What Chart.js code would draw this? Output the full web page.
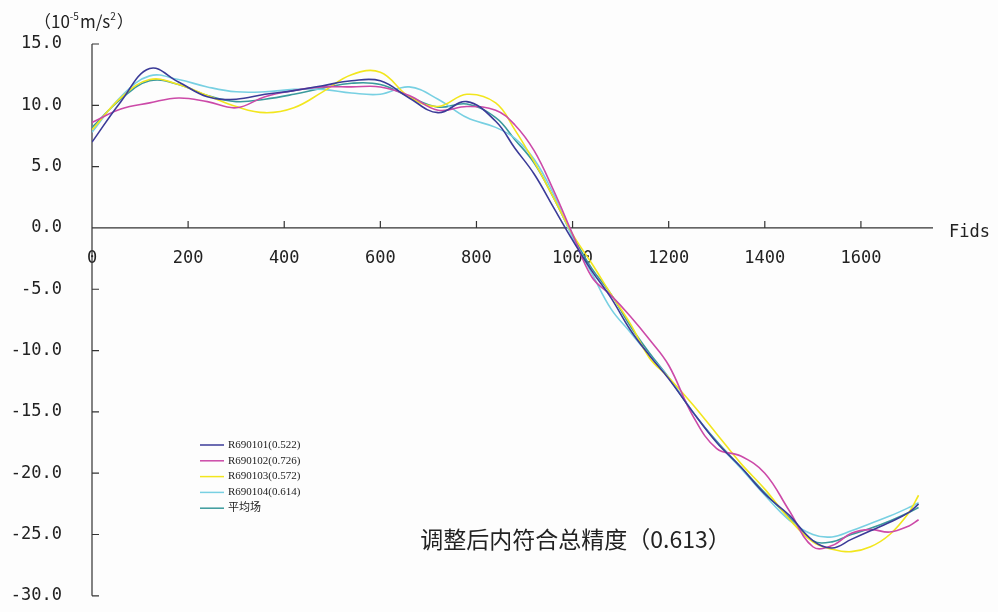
<!DOCTYPE html>
<html>
  <head>
    <meta charset="utf-8" />
    <title>调整后内符合总精度</title>
    <style>
        html, body {
            margin: 0;
            padding: 0;
            background: #fdfdfd;
            overflow: hidden;
        }
        /* the centred x axis still reserves ~24px at the bottom, so the canvas runs past the window */
        #wrap {
            width: 998px;
            height: 636px;
        }
    </style>
  </head>
  <body>
    <script src="https://cdn.jsdelivr.net/npm/chart.js@4.4.1/dist/chart.umd.min.js"></script>
    <div id="wrap"><canvas id="chart"></canvas></div>

    <script>
        const fids = [0, 60, 120, 180, 240, 300, 360, 420, 480, 540, 600, 660, 720, 780, 840, 880, 920, 960,
                      1000, 1040, 1080, 1120, 1160, 1200, 1250, 1300, 1350, 1400, 1450, 1500, 1540, 1580, 1620, 1660, 1700, 1720];

        const r690101 = [7.0, 10.3, 13.0, 11.9, 10.7, 10.5, 10.9, 11.2, 11.6, 12.0, 12.0, 10.6, 9.4, 10.3, 8.7, 6.5, 4.4, 1.7,
                         -1.0, -3.5, -5.7, -8.3, -10.4, -12.3, -15.0, -17.5, -19.5, -21.7, -23.4, -25.5, -26.1, -25.4, -24.7, -24.0, -23.2, -22.5];
        const r690102 = [8.6, 9.7, 10.2, 10.6, 10.3, 9.8, 10.7, 11.2, 11.5, 11.5, 11.5, 10.8, 9.6, 9.9, 9.6, 8.4, 6.3, 3.1,
                         -0.5, -4.0, -5.5, -7.2, -9.1, -11.2, -15.3, -18.0, -18.6, -20.0, -23.0, -26.0, -25.9, -24.9, -24.6, -24.8, -24.3, -23.8];
        const r690103 = [8.0, 10.6, 12.1, 11.7, 10.8, 9.9, 9.4, 9.8, 11.1, 12.5, 12.7, 10.7, 9.9, 10.9, 10.2, 8.0, 5.4, 2.5,
                         -0.5, -2.9, -5.4, -7.8, -10.6, -12.2, -14.4, -16.8, -19.2, -21.3, -23.7, -25.6, -26.2, -26.4, -26.0, -25.0, -23.2, -21.8];
        const r690104 = [7.8, 10.7, 12.4, 12.1, 11.5, 11.1, 11.1, 11.3, 11.3, 11.0, 10.9, 11.5, 10.5, 9.0, 8.2, 7.3, 5.6, 2.8,
                         -0.8, -3.7, -6.6, -8.5, -10.4, -12.2, -15.0, -17.5, -19.6, -21.8, -23.8, -25.0, -25.2, -24.7, -24.1, -23.5, -22.8, -22.4];
        const average = [8.2, 10.5, 12.0, 11.7, 10.8, 10.3, 10.5, 10.9, 11.4, 11.8, 11.7, 10.7, 9.85, 10.1, 9.0, 7.2, 5.3, 2.5,
                         -0.6, -3.3, -5.4, -8.0, -10.2, -12.2, -15.0, -17.4, -19.5, -21.6, -23.6, -25.5, -25.6, -25.0, -24.5, -23.9, -23.2, -22.8];

        const seriesNames = ["R690101(0.522)", "R690102(0.726)", "R690103(0.572)", "R690104(0.614)", "平均场"];
        const seriesValues = [r690101, r690102, r690103, r690104, average];
        const seriesColors = ["#3b3b98", "#cc4aa8", "#f2e61e", "#78d0e2", "#3a9a9c"];

        const xTickValues = [200, 400, 600, 800, 1000, 1200, 1400, 1600];
        const unitText = ["（10", "-5", "m/s", "2", "）"];
        const axisName = "Fids";
        const noteText = "调整后内符合总精度（0.613）";

        Chart.defaults.font.family = "'DejaVu Sans Mono', monospace";
        Chart.defaults.color = "#222";

        const axesPlugin = {
          id: "axes",
          beforeDatasetsDraw(chart) {
            const { ctx } = chart;
            const x = chart.scales.x, y = chart.scales.y;
            const x0 = x.getPixelForValue(0), y0 = y.getPixelForValue(0);
            ctx.save();
            ctx.strokeStyle = "#333";
            ctx.lineWidth = 1.2;
            ctx.beginPath();
            ctx.moveTo(x0, y.top);
            ctx.lineTo(x0, y.bottom);
            ctx.moveTo(x0, y0);
            ctx.lineTo(x.right, y0);
            y.ticks.forEach(t => {
              const py = y.getPixelForValue(t.value);
              ctx.moveTo(x0, py);
              ctx.lineTo(x0 + 7, py);
            });
            xTickValues.forEach(v => {
              const px = x.getPixelForValue(v);
              ctx.moveTo(px, y0);
              ctx.lineTo(px, y0 - 7);
            });
            ctx.stroke();
            ctx.restore();
          },
          afterDraw(chart) {
            const { ctx } = chart;
            const x = chart.scales.x, y = chart.scales.y;
            const y0 = y.getPixelForValue(0);
            ctx.save();
            ctx.fillStyle = "#222";
            ctx.textBaseline = "alphabetic";

            // unit label
            let ux = 34;
            const big = "17px 'Noto Sans CJK SC'", small = "10px 'Noto Sans CJK SC'";
            unitText.forEach((s, i) => {
              const sup = i === 1 || i === 3;
              ctx.font = sup ? small : big;
              ctx.fillText(s, ux, sup ? 20 : 28);
              ux += ctx.measureText(s).width + (sup ? 1 : 0);
            });

            // axis name
            ctx.font = "17px 'DejaVu Sans Mono'";
            ctx.textBaseline = "middle";
            ctx.fillText(axisName, x.right + 16, y0 + 5);

            // note
            ctx.font = "23px 'Noto Sans CJK SC'";
            ctx.fillText(noteText, x.getPixelForValue(683), y.getPixelForValue(-25.4));

            // legend
            ctx.font = "11px 'Liberation Serif', 'Noto Sans CJK SC'";
            chart.data.datasets.forEach((ds, i) => {
              const ly = 445 + i * 15.8;
              ctx.strokeStyle = ds.borderColor;
              ctx.lineWidth = 1.5;
              ctx.beginPath();
              ctx.moveTo(200, ly);
              ctx.lineTo(224, ly);
              ctx.stroke();
              ctx.fillText(ds.label, 228, ly);
            });
            ctx.restore();
          }
        };

        const chart = new Chart("chart", {
          type: "line",
          data: {
            datasets: seriesNames.map((name, i) => ({
              label: name,
              data: fids.map((f, j) => ({ x: f, y: seriesValues[i][j] })),
              borderColor: seriesColors[i],
              borderWidth: 1.6,
              pointRadius: 0,
              tension: 0.4,
              fill: false
            }))
          },
          options: {
            responsive: true,
            maintainAspectRatio: false,
            animation: false,
            layout: { padding: { left: 0, top: 44, right: 65, bottom: 16 } },
            plugins: {
              legend: { display: false },
              tooltip: { enabled: false }
            },
            scales: {
              x: {
                type: "linear",
                position: { y: 0 },
                min: 0,
                max: 1750,
                grid: { display: false, drawTicks: false },
                border: { display: false },
                ticks: {
                  stepSize: 200,
                  includeBounds: false,
                  padding: 20,
                  maxRotation: 0,
                  font: { size: 17 },
                  callback: v => (v % 200 === 0 ? String(v) : "")
                }
              },
              y: {
                min: -30,
                max: 15,
                grid: { display: false, drawTicks: false },
                border: { display: false },
                afterFit: s => { s.width = 92; },
                ticks: {
                  stepSize: 5,
                  padding: 30,
                  font: { size: 17 },
                  callback: v => Number(v).toFixed(1)
                }
              }
            }
          },
          plugins: [axesPlugin]
        });
    </script>
  </body>
</html>
